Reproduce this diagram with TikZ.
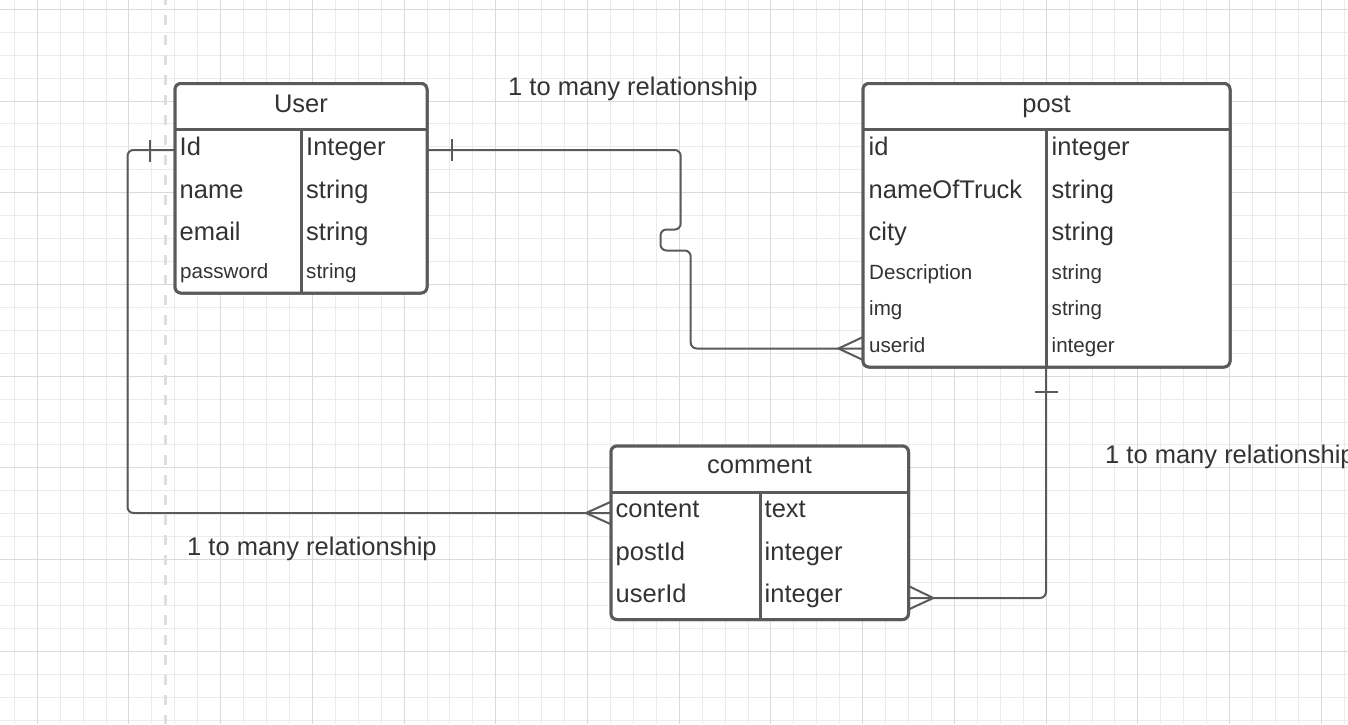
\documentclass[tikz,border=0pt]{standalone}
\usepackage{fontspec}
\setmainfont{Liberation Sans}
\definecolor{txt}{HTML}{333333}
\definecolor{ln}{HTML}{5A5A5A}
\definecolor{gminor}{HTML}{EBEBEB}
\definecolor{gmajor}{HTML}{DADADA}
\definecolor{dashgray}{HTML}{DEDEDE}
\begin{document}
\begin{tikzpicture}[x=1pt,y=-1pt,
  tbl/.style={draw=ln, line width=3pt, rounded corners=6pt, fill=white, inner sep=0pt, outer sep=0pt},
  sepline/.style={draw=ln, line width=3pt},
  conn/.style={draw=ln, line width=2pt, rounded corners=6pt},
  foot/.style={draw=ln, line width=2pt},
  big/.style={font=\fontsize{25.5}{30}\selectfont, text=txt, inner sep=0pt, anchor=base west},
  small/.style={font=\fontsize{20.6}{24}\selectfont, text=txt, inner sep=0pt, anchor=base west},
  ttl/.style={font=\fontsize{25.5}{30}\selectfont, text=txt, inner sep=0pt, anchor=base},
  minorline/.style={draw=gminor, line width=1pt},
  majorline/.style={draw=gmajor, line width=1pt}]
\useasboundingbox (0,0) rectangle (1348,724);
\fill[white] (0,0) rectangle (1348,724);
% grid
\foreach \i in {0,...,58} {\pgfmathsetmacro\xx{floor(14.3+22.93*\i)+0.5}\draw[minorline] (\xx,0) -- (\xx,724);}
\foreach \j in {0,...,31} {\pgfmathsetmacro\yy{floor(9.3+22.93*\j)+0.5}\draw[minorline] (0,\yy) -- (1348,\yy);}
\foreach \i in {1,5,...,57} {\pgfmathsetmacro\xx{floor(14.3+22.93*\i)+0.5}\draw[majorline] (\xx,0) -- (\xx,724);}
\foreach \j in {0,4,...,28} {\pgfmathsetmacro\yy{floor(9.3+22.93*\j)+0.5}\draw[majorline] (0,\yy) -- (1348,\yy);}
% dashed page line
\draw[dashgray, line width=3pt, dash pattern=on 10pt off 10pt, dash phase=5pt] (165.5,0) -- (165.5,724);

% tables
\node[tbl, minimum width=252pt, minimum height=209.5pt] (user) at (301,188.25) {};
\node[tbl, minimum width=367pt, minimum height=283.5pt] (post) at (1046.5,225.25) {};
\node[tbl, minimum width=297.5pt, minimum height=173.5pt] (comment) at (759.75,532.75) {};

\coordinate (rU) at (0,150);
\coordinate (rP) at (0,348.5);
\coordinate (rC1) at (0,513);
\coordinate (rC3) at (0,598);
\coordinate (colP) at (1046,0);

% connectors
\draw[conn] (user.east |- rU) -- (680.7,150) -- (680.7,229.5) -- (660.5,229.5) -- (660.5,250.5) -- (690.7,250.5) -- (690.7,348.5) -- (post.west |- rP);
\draw[foot] (post.west |- 0,337) -- (838.5,348.5) -- (post.west |- 0,360);
\draw[foot] (452,139) -- (452,161);

\draw[conn] (user.west |- rU) -- (127.5,150) -- (127.5,513) -- (comment.west |- rC1);
\draw[foot] (150,139.5) -- (150,161.5);
\draw[foot] (comment.west |- 0,501.7) -- (586,513) -- (comment.west |- 0,524.3);

\draw[conn] (post.south -| colP) -- (1046,598) -- (comment.east |- rC3);
\draw[foot] (1035,391.7) -- (1057.5,391.7);
\draw[foot] (comment.east |- 0,586) -- (933.3,598) -- (comment.east |- 0,609.5);

% redraw tables on top
\node[tbl, minimum width=252pt, minimum height=209.5pt] at (user) {};
\node[tbl, minimum width=367pt, minimum height=283.5pt] at (post) {};
\node[tbl, minimum width=297.5pt, minimum height=173.5pt] at (comment) {};

% User internals
\draw[sepline] (user.west |- 0,129.5) -- (user.east |- 0,129.5);
\draw[sepline] (301,129.5) -- (user.south -| 301,0);
\node[ttl] (userT) at (301,112.5) {User};
\node[big] (uId) at (179.5,155.5) {Id};
\node[big] (uName) at (179.5,198.3) {name};
\node[big] (uEmail) at (179.5,240.5) {email};
\node[small] (uPass) at (180,278.5) {password};
\node[big] (uIdT) at (306,155.5) {Integer};
\node[big] (uNameT) at (306,198.3) {string};
\node[big] (uEmailT) at (306,240.5) {string};
\node[small] (uPassT) at (306,278.5) {string};

% post internals
\draw[sepline] (post.west |- 0,129) -- (post.east |- 0,129);
\draw[sepline] (1046,129) -- (post.south -| colP);
\node[ttl] (postT) at (1046.5,112.5) {post};
\node[big] (pId) at (868.5,155.3) {id};
\node[big] (pName) at (868.5,198.3) {nameOfTruck};
\node[big] (pCity) at (868.5,240.3) {city};
\node[small] (pDesc) at (869,279.3) {Description};
\node[small] (pImg) at (869,315.3) {img};
\node[small] (pUid) at (869,352.3) {userid};
\node[big] (pIdT) at (1051.5,155.3) {integer};
\node[big] (pNameT) at (1051.5,198.3) {string};
\node[big] (pCityT) at (1051.5,240.3) {string};
\node[small] (pDescT) at (1051.5,279.3) {string};
\node[small] (pImgT) at (1051.5,315.3) {string};
\node[small] (pUidT) at (1051.5,352.3) {integer};

% comment internals
\draw[sepline] (comment.west |- 0,492) -- (comment.east |- 0,492);
\draw[sepline] (760,492) -- (comment.south -| 760,0);
\node[ttl] (commT) at (759.5,473.3) {comment};
\node[big] (cContent) at (615.5,517.5) {content};
\node[big] (cPost) at (615.5,560) {postId};
\node[big] (cUser) at (615.5,602.5) {userId};
\node[big] (cContentT) at (764.5,517.5) {text};
\node[big] (cPostT) at (764.5,560) {integer};
\node[big] (cUserT) at (764.5,602.5) {integer};

% relationship labels
\node[big] (lab1) at (508,95.5) {1 to many relationship};
\node[big] (lab2) at (1105,463.3) {1 to many relationship};
\node[big] (lab3) at (187,555) {1 to many relationship};
\end{tikzpicture}
\end{document}
